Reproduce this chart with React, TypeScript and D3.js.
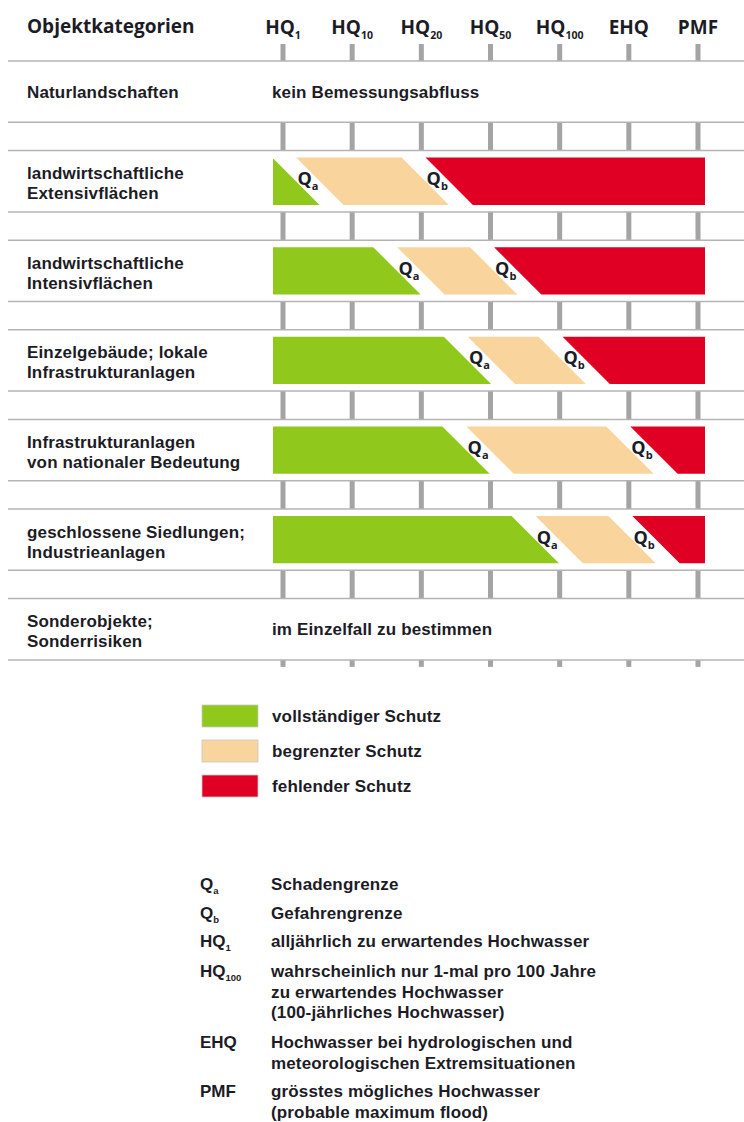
import React from "react";
import * as d3 from "d3";

// ---- data ----
const columnBase = ["HQ", "HQ", "HQ", "HQ", "HQ", "EHQ", "PMF"];
const columnSub = ["1", "10", "20", "50", "100", "", ""];

const categories: string[][] = [
  ["Naturlandschaften"],
  ["landwirtschaftliche", "Extensivflächen"],
  ["landwirtschaftliche", "Intensivflächen"],
  ["Einzelgebäude; lokale", "Infrastrukturanlagen"],
  ["Infrastrukturanlagen", "von nationaler Bedeutung"],
  ["geschlossene Siedlungen;", "Industrieanlagen"],
  ["Sonderobjekte;", "Sonderrisiken"],
];
const rowNotes: (string | null)[] = [
  "kein Bemessungsabfluss",
  null,
  null,
  null,
  null,
  null,
  "im Einzelfall zu bestimmen",
];
// boundary positions in column-index units (0 = HQ1 ... 6 = PMF)
const qaValues: (number | null)[] = [null, 0.36, 1.82, 2.84, 2.82, 3.82, null];
const qbValues: (number | null)[] = [null, 2.23, 3.22, 4.21, 5.19, 5.22, null];

const legendLabels = ["vollständiger Schutz", "begrenzter Schutz", "fehlender Schutz"];
const legendColors = ["#90c81c", "#f9d49c", "#df0024"];

const glossTerms = [
  { base: "Q", sub: "a" },
  { base: "Q", sub: "b" },
  { base: "HQ", sub: "1" },
  { base: "HQ", sub: "100" },
  { base: "EHQ", sub: "" },
  { base: "PMF", sub: "" },
];
const glossTexts: string[][] = [
  ["Schadengrenze"],
  ["Gefahrengrenze"],
  ["alljährlich zu erwartendes Hochwasser"],
  ["wahrscheinlich nur 1-mal pro 100 Jahre", "zu erwartendes Hochwasser", "(100-jährliches Hochwasser)"],
  ["Hochwasser bei hydrologischen und", "meteorologischen Extremsituationen"],
  ["grösstes mögliches Hochwasser", "(probable maximum flood)"],
];
const glossBaselines = [890, 919, 947, 977, 1048, 1097];

// ---- layout ----
const W = 744;
const H = 1122;
const FONT = "'Open Sans', 'DejaVu Sans', sans-serif";
const BFONT = "'Liberation Sans', Arial, sans-serif";
const TEXT = "#1c1c26";
const LINE = "#b4b4b4";
const TICK = "#a4a4a4";
const BODY = 17;
const headerLineY = 61;
const contentH = 61.3;
const gapH = 28.3;
const barX0 = 273;
const barX1 = 705;
const barInset = 7;
const halfGap = 12;

const xIdx = d3.scaleLinear().domain([0, 6]).range([283, 698]);
const xCol = d3
  .scalePoint<number>()
  .domain(d3.range(columnBase.length))
  .range([283, 698]);

const rowTop = (i: number) => headerLineY + i * (contentH + gapH);

function Label({ x, y, base, sub, size, subSize, anchor, weight, font }: any) {
  return (
    <text x={x} y={y} textAnchor={anchor} fontFamily={font || FONT} fontWeight={weight} fontSize={size} fill={TEXT}>
      {base}
      {sub ? (
        <tspan fontSize={subSize} dy={subSize * 0.45}>
          {sub}
        </tspan>
      ) : null}
    </text>
  );
}

function BodyText({ x, y, children }: any) {
  return (
    <text x={x} y={y} fontFamily={BFONT} fontWeight={700} fontSize={BODY} letterSpacing={0.15} fill={TEXT}>
      {children}
    </text>
  );
}

export default function App() {
  const rows = categories.map((_, i) => {
    const top = rowTop(i);
    return { top, bottom: top + contentH, mid: top + contentH / 2 };
  });
  const gaps = rows.slice(0, -1).map((r) => ({ top: r.bottom, bottom: r.bottom + gapH }));
  const lastBottom = rows[rows.length - 1].bottom;

  const poly = (l: number, r: number, y0: number, y1: number) => {
    const s = (y1 - y0) / 2;
    return [
      [l - s, y0],
      [r - s, y0],
      [r + s, y1],
      [l + s, y1],
    ]
      .map((p) => p.join(","))
      .join(" ");
  };

  return (
    <svg
      width={W}
      height={H}
      viewBox={`0 0 ${W} ${H}`}
      style={{ position: "absolute", left: 0, top: 0, background: "#fff" }}
    >
      <defs>
        <clipPath id="barClip">
          <rect x={barX0} y={0} width={barX1 - barX0} height={H} />
        </clipPath>
      </defs>

      {/* header */}
      <text x={27} y={33} fontFamily={FONT} fontWeight={700} fontSize={19} fill={TEXT}>
        Objektkategorien
      </text>
      {columnBase.map((b, i) => (
        <Label
          key={"h" + i}
          x={xCol(i)}
          y={34}
          base={b}
          sub={columnSub[i]}
          size={19}
          subSize={10.5}
          anchor="middle"
          weight={700}
        />
      ))}
      {columnBase.map((_, i) => (
        <rect key={"ht" + i} x={xCol(i)! - 2.5} y={44} width={5} height={headerLineY - 44} fill={TICK} />
      ))}

      {/* gap ticks */}
      {gaps.map((g, gi) =>
        columnBase.map((_, i) => (
          <rect key={"g" + gi + "-" + i} x={xCol(i)! - 2.5} y={g.top} width={5} height={g.bottom - g.top} fill={TICK} />
        ))
      )}
      {columnBase.map((_, i) => (
        <rect key={"bt" + i} x={xCol(i)! - 2.5} y={lastBottom} width={5} height={7} fill={TICK} />
      ))}

      {/* horizontal lines */}
      {[headerLineY, ...rows.map((r) => r.bottom), ...gaps.map((g) => g.bottom)].map((y, i) => (
        <line key={"l" + i} x1={8} x2={W} y1={y} y2={y} stroke={LINE} strokeWidth={1.5} />
      ))}

      {/* rows */}
      {rows.map((r, i) => {
        const lines = categories[i];
        const ys = lines.length === 1 ? [r.mid + 6] : [r.mid - 2, r.mid + 18];
        const qa = qaValues[i];
        const qb = qbValues[i];
        const y0 = r.top + barInset;
        const y1 = r.bottom - barInset;
        return (
          <g key={"r" + i}>
            {lines.map((t, k) => (
              <BodyText key={k} x={27} y={ys[k]}>
                {t}
              </BodyText>
            ))}
            {rowNotes[i] ? (
              <BodyText x={272} y={r.mid + 6}>
                {rowNotes[i]}
              </BodyText>
            ) : null}
            {qa != null && qb != null ? (
              <g>
                <g clipPath="url(#barClip)">
                  <polygon points={poly(barX0 - 100, xIdx(qa) - halfGap, y0, y1)} fill={legendColors[0]} />
                  <polygon points={poly(xIdx(qa) + halfGap, xIdx(qb) - halfGap, y0, y1)} fill={legendColors[1]} />
                  <polygon points={poly(xIdx(qb) + halfGap, barX1 + 100, y0, y1)} fill={legendColors[2]} />
                </g>
                <Label x={xIdx(qa)} y={r.mid + 4} base="Q" sub="a" size={18} subSize={11} anchor="middle" weight={700} />
                <Label x={xIdx(qb)} y={r.mid + 4} base="Q" sub="b" size={18} subSize={11} anchor="middle" weight={700} />
              </g>
            ) : null}
          </g>
        );
      })}

      {/* legend */}
      {legendLabels.map((t, i) => {
        const y = 705 + i * 35;
        return (
          <g key={"lg" + i}>
            <rect x={202} y={y} width={56} height={22} fill={legendColors[i]} stroke="#c8c8c8" strokeWidth={0.8} />
            <BodyText x={272} y={y + 17}>
              {t}
            </BodyText>
          </g>
        );
      })}

      {/* glossary */}
      {glossTerms.map((g, i) => (
        <g key={"gl" + i}>
          <Label x={200} y={glossBaselines[i]} base={g.base} sub={g.sub} size={BODY} subSize={9.5} anchor="start" weight={700} font={BFONT} />
          {glossTexts[i].map((t, k) => (
            <BodyText key={k} x={271} y={glossBaselines[i] + k * 20.5}>
              {t}
            </BodyText>
          ))}
        </g>
      ))}
    </svg>
  );
}
